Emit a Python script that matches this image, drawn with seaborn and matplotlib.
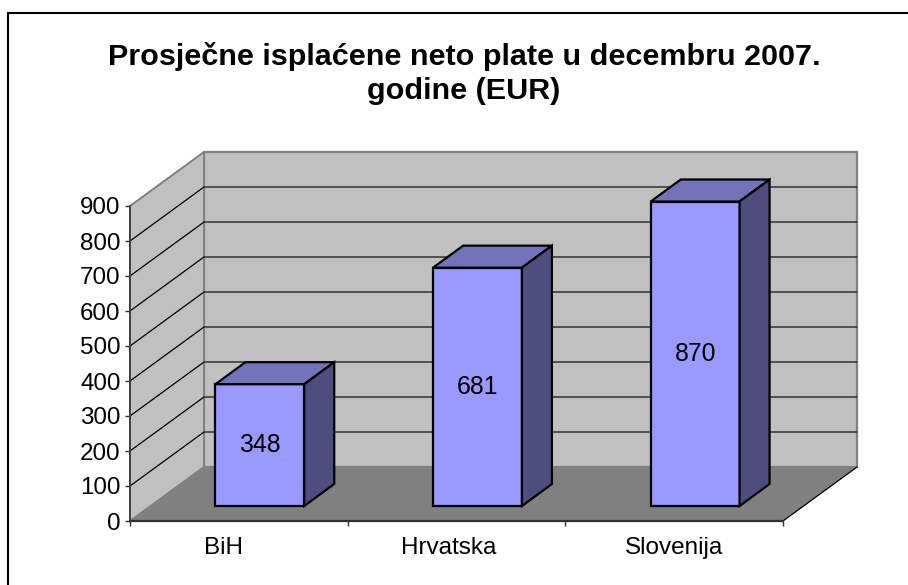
import matplotlib
matplotlib.use('Agg')
import matplotlib.pyplot as plt
from matplotlib.patches import Polygon
from matplotlib.transforms import Affine2D
import pandas as pd
import seaborn as sns

COUNTRIES = ['BiH', 'Hrvatska', 'Slovenija']
NET_WAGES = [348, 681, 870]
Y_TICKS = [0, 100, 200, 300, 400, 500, 600, 700, 800, 900]
TITLE = 'Prosječne isplaćene neto plate u decembru 2007.\ngodine (EUR)'

FIG_W, FIG_H = 908, 585
DPI = 100


def shift(ax, dx, dy):
    # offset in pixels, y up like display coordinates
    return ax.transData + Affine2D().translate(dx, dy)


sns.set_theme(style='white')
plt.rcParams['font.family'] = ['Liberation Sans', 'DejaVu Sans']

df = pd.DataFrame({'country': COUNTRIES, 'wage': NET_WAGES})

fig = plt.figure(figsize=(FIG_W / DPI, FIG_H / DPI), dpi=DPI)
# front plane of the fake 3D box
left, right, top, bottom = 130, 783, 206, 521
ax = fig.add_axes([left / FIG_W, 1 - bottom / FIG_H,
                   (right - left) / FIG_W, (bottom - top) / FIG_H])

bar_w = 0.408
sns.barplot(data=df, x='country', y='wage', ax=ax, width=bar_w,
            color='#9999ff', saturation=1, edgecolor='black', linewidth=1.6,
            zorder=5)
bars = list(ax.patches)
ax.set_xlim(-0.5, 2.5)
ax.set_ylim(0, 900)
ax.patch.set_visible(False)
for s in ax.spines.values():
    s.set_visible(False)

# Depth of the box and of the bars
wall_dx, wall_dy = 74, 54
bar_off_x, bar_off_y = 21, 15
depth_x, depth_y = 30, 22
n = len(COUNTRIES)

back = shift(ax, wall_dx, wall_dy)
side_kw = dict(clip_on=False, joinstyle='miter')

# back wall
ax.add_patch(Polygon([(-0.5, 0), (n - 0.5, 0), (n - 0.5, 900), (-0.5, 900)],
                     transform=back, fc='#c0c0c0', ec='#808080', lw=1.6,
                     zorder=1, **side_kw))
# left wall
t_wall = ax.transData
to_data = t_wall.inverted()
q0 = to_data.transform(t_wall.transform((-0.5, 0)) + (wall_dx, wall_dy))
q1 = to_data.transform(t_wall.transform((-0.5, 900)) + (wall_dx, wall_dy))
ax.add_patch(Polygon([(-0.5, 0), (-0.5, 900), q1, q0], fc='#c0c0c0',
                     ec='#808080', lw=1.4, zorder=1, **side_kw))
# floor
r0 = to_data.transform(t_wall.transform((n - 0.5, 0)) + (wall_dx, wall_dy))
ax.add_patch(Polygon([(-0.5, 0), (n - 0.5, 0), r0, q0], fc='#808080',
                     ec='none', zorder=2, **side_kw))
# floor's right edge is a thin black line
ax.plot([n - 0.5, r0[0]], [0, r0[1]], color='black', lw=0.9, zorder=2,
        clip_on=False)

# gridlines, along the left wall then across the back wall
for v in Y_TICKS[1:-1]:
    a = to_data.transform(t_wall.transform((-0.5, v)) + (wall_dx, wall_dy))
    ax.plot([-0.5, a[0]], [v, a[1]], color='black', lw=0.9, zorder=1.5,
            clip_on=False)
    ax.plot([-0.5, n - 0.5], [v, v], color='#333333', lw=1.1, zorder=1.5,
            transform=back, clip_on=False)

# axis lines
ax.plot([-0.5, -0.5], [0, 900], color='#404040', lw=1.4, zorder=3,
        clip_on=False)
ax.plot([-0.5, n - 0.5], [0, 0], color='#303030', lw=1.6, zorder=3,
        clip_on=False)

# move bars back a little and add their sides
front = shift(ax, bar_off_x, bar_off_y)
rear = shift(ax, bar_off_x + depth_x, bar_off_y + depth_y)
for bar, wage in zip(bars, NET_WAGES):
    bar.set_transform(front)
    bar.set_clip_on(False)
    x0, x1 = bar.get_x(), bar.get_x() + bar_w
    f = front.transform([(x0, 0), (x1, 0), (x1, wage), (x0, wage)])
    r = rear.transform([(x0, 0), (x1, 0), (x1, wage), (x0, wage)])
    top_face = to_data.transform([f[3], f[2], r[2], r[3]])
    side_face = to_data.transform([f[1], f[2], r[2], r[1]])
    ax.add_patch(Polygon(top_face, fc='#7373b9', ec='black', lw=1.6, zorder=5,
                         clip_on=False, joinstyle='miter'))
    ax.add_patch(Polygon(side_face, fc='#4d4d80', ec='black', lw=1.6, zorder=5,
                         clip_on=False, joinstyle='miter'))
    ax.text(x0 + bar_w / 2, wage / 2, str(wage), transform=front, ha='center',
            va='center', fontsize=17.8, color='black', zorder=6)

ax.set_xlabel('')
ax.set_ylabel('')
ax.set_yticks(Y_TICKS)
ax.set_xticks([-0.5, 0.5, 1.5, 2.5], labels=[])
ax.tick_params(axis='both', length=3.8, width=1, color='#303030', bottom=True,
               left=True, pad=3)
ax.tick_params(axis='y', labelsize=17.4, labelcolor='black')
# the labels sit a bit left of the category centres in the original
label_nudge = [-15, -8, 0]
for i, name in enumerate(COUNTRIES):
    ax.annotate(name, (i, 0), xytext=(label_nudge[i], -16),
                textcoords='offset pixels', ha='center', va='top',
                fontsize=17.5, color='black', annotation_clip=False)

fig.text(464 / FIG_W, 1 - 73.5 / FIG_H, TITLE, ha='center', va='center',
         fontsize=21.95, fontweight='bold', color='black', linespacing=1.27)

# chart frame
frame_l, frame_t = 8, 13
fig.add_artist(plt.Line2D([frame_l / FIG_W, frame_l / FIG_W],
                          [0, 1 - frame_t / FIG_H], color='black', lw=1.5))
fig.add_artist(plt.Line2D([frame_l / FIG_W, 1], [1 - frame_t / FIG_H] * 2,
                          color='black', lw=1.5))

fig.savefig('out.png', dpi=DPI)
